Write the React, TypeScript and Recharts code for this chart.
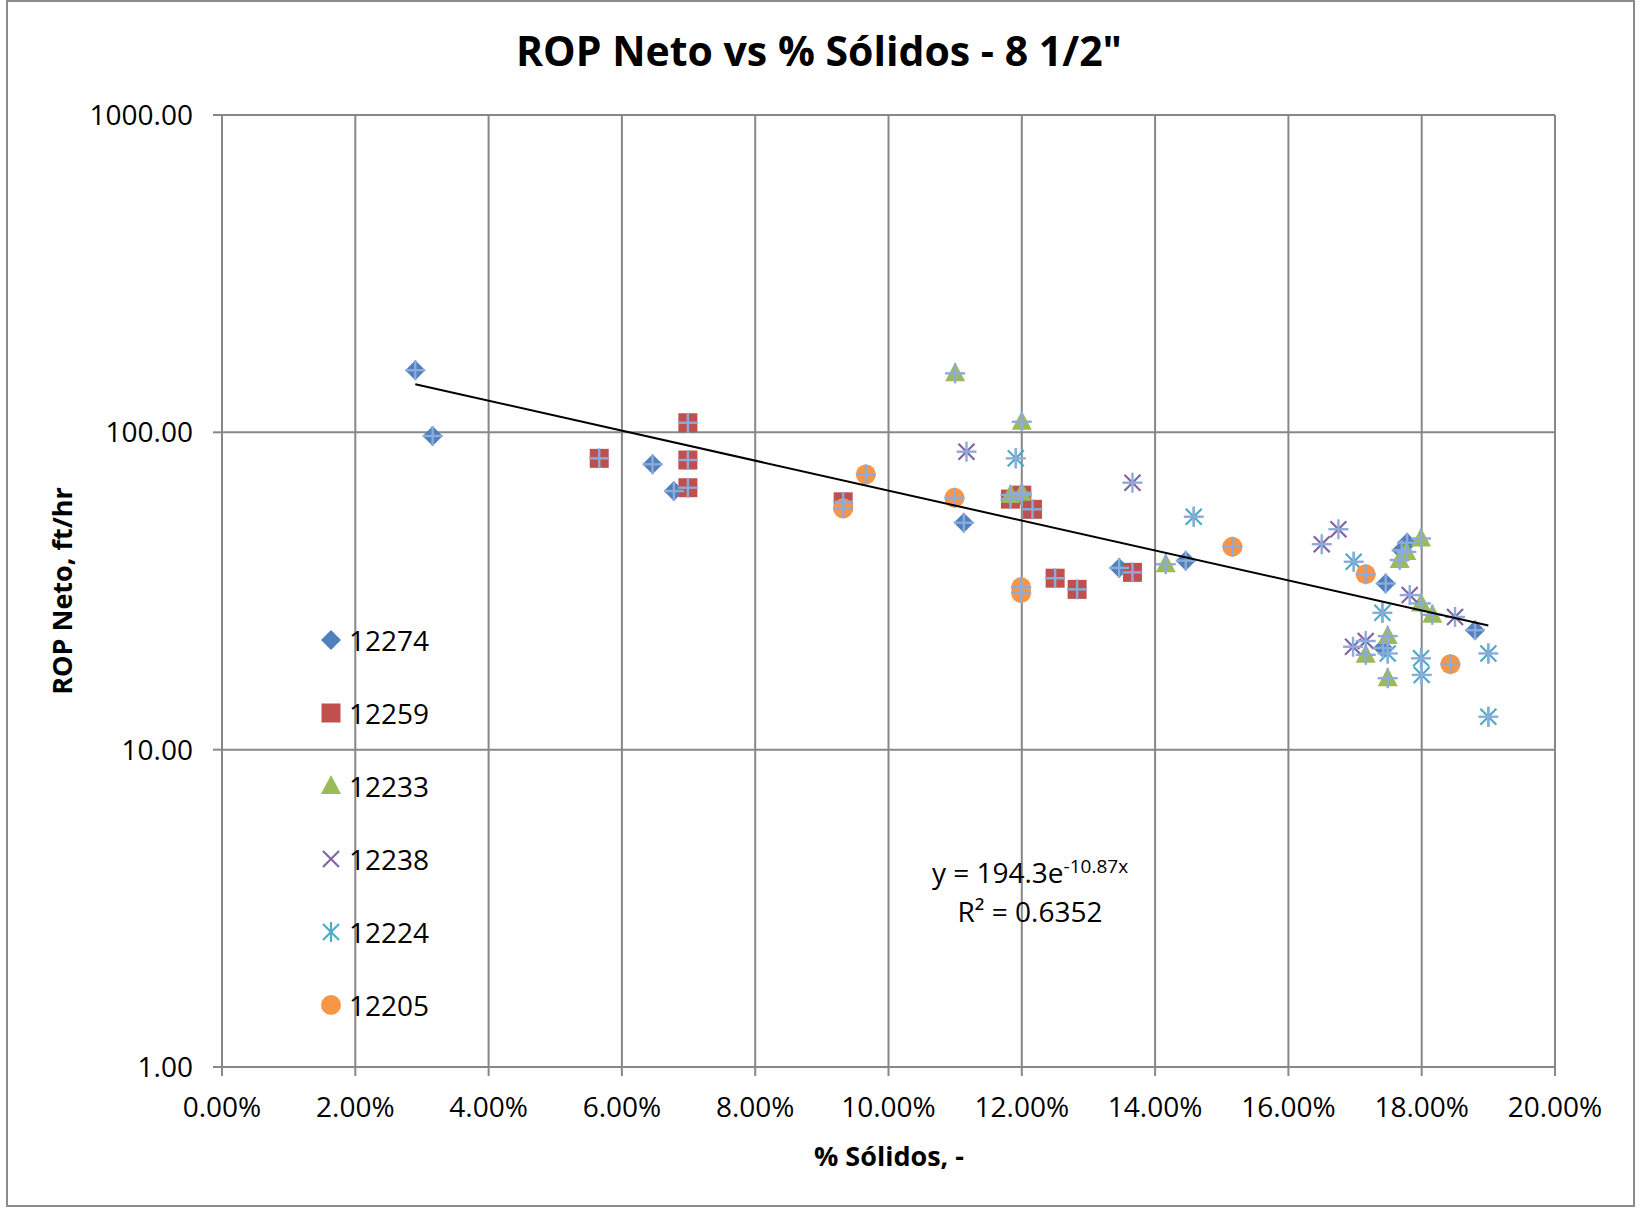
import React from "react";
import {
  ScatterChart,
  Scatter,
  XAxis,
  YAxis,
  CartesianGrid,
  Legend,
} from "recharts";

// % Sólidos (fraction) vs ROP Neto (ft/hr)
const s12274 = [
  { x: 0.029, y: 157 },
  { x: 0.0316, y: 97.4 },
  { x: 0.0646, y: 79.3 },
  { x: 0.0678, y: 65.3 },
  { x: 0.1113, y: 51.9 },
  { x: 0.1346, y: 37.4 },
  { x: 0.1446, y: 39.4 },
  { x: 0.1746, y: 33.4 },
  { x: 0.1778, y: 44.9 },
  { x: 0.177, y: 42.5 },
  { x: 0.1742, y: 20.9 },
  { x: 0.188, y: 23.8 },
];

const s12259 = [
  { x: 0.0566, y: 82.8 },
  { x: 0.0699, y: 107.2 },
  { x: 0.0699, y: 81.8 },
  { x: 0.0699, y: 66.9 },
  { x: 0.0932, y: 60.4 },
  { x: 0.1183, y: 61.6 },
  { x: 0.12, y: 63.4 },
  { x: 0.1216, y: 57.2 },
  { x: 0.125, y: 34.7 },
  { x: 0.1283, y: 32.0 },
  { x: 0.1366, y: 36.2 },
];

const s12233 = [
  { x: 0.11, y: 153.4 },
  { x: 0.12, y: 108 },
  { x: 0.1183, y: 63.5 },
  { x: 0.12, y: 64.5 },
  { x: 0.1416, y: 38.4 },
  { x: 0.1799, y: 46.3 },
  { x: 0.1767, y: 39.6 },
  { x: 0.1777, y: 42.0 },
  { x: 0.1799, y: 28.9 },
  { x: 0.1816, y: 26.6 },
  { x: 0.1716, y: 19.9 },
  { x: 0.1749, y: 22.8 },
  { x: 0.1749, y: 16.8 },
];

const s12238 = [
  { x: 0.1117, y: 86.9 },
  { x: 0.1366, y: 69.4 },
  { x: 0.165, y: 44.4 },
  { x: 0.1675, y: 49.5 },
  { x: 0.1697, y: 21.1 },
  { x: 0.1716, y: 22.0 },
  { x: 0.1782, y: 30.7 },
  { x: 0.185, y: 26.2 },
];

const s12224 = [
  { x: 0.1191, y: 82.8 },
  { x: 0.1458, y: 54.2 },
  { x: 0.1698, y: 39.1 },
  { x: 0.1741, y: 27.0 },
  { x: 0.1749, y: 20.1 },
  { x: 0.1799, y: 19.4 },
  { x: 0.18, y: 17.2 },
  { x: 0.19, y: 20.1 },
  { x: 0.19, y: 12.7 },
];

const s12205 = [
  { x: 0.0966, y: 73.7 },
  { x: 0.0932, y: 57.6 },
  { x: 0.1099, y: 62.2 },
  { x: 0.1199, y: 32.5 },
  { x: 0.1199, y: 31.2 },
  { x: 0.1516, y: 43.6 },
  { x: 0.1716, y: 35.7 },
  { x: 0.1843, y: 18.6 },
];

const xTicks = [0, 0.02, 0.04, 0.06, 0.08, 0.1, 0.12, 0.14, 0.16, 0.18, 0.2];
const yTicks = [1, 10, 100, 1000];

// exponential trendline as printed on the chart
const trendA = 194.3;
const trendB = -10.87;
const trendX = [0.029, 0.19];
const trend = trendX.map((x) => ({ x, y: trendA * Math.exp(trendB * x) }));

const allPoints = [...s12274, ...s12259, ...s12233, ...s12238, ...s12224, ...s12205];

const GRID = "#878787";
const PLUS = "#8eaadb";
const FONT = "'Open Sans', sans-serif";

type Kind = "diamond" | "square" | "triangle" | "x" | "star" | "circle";

function Marker({ kind, color, cx, cy }: { kind: Kind; color: string; cx: number; cy: number }) {
  const r = 10;
  switch (kind) {
    case "diamond":
      return <polygon points={`${cx},${cy - r} ${cx + r},${cy} ${cx},${cy + r} ${cx - r},${cy}`} fill={color} />;
    case "square":
      return <rect x={cx - 9.5} y={cy - 9.5} width={19} height={19} fill={color} />;
    case "triangle":
      return <polygon points={`${cx},${cy - 11} ${cx + 10},${cy + 8} ${cx - 10},${cy + 8}`} fill={color} />;
    case "x":
      return (
        <g stroke={color} strokeWidth={2.2}>
          <line x1={cx - 8} y1={cy - 8} x2={cx + 8} y2={cy + 8} />
          <line x1={cx - 8} y1={cy + 8} x2={cx + 8} y2={cy - 8} />
        </g>
      );
    case "star":
      return (
        <g stroke={color} strokeWidth={2.2}>
          <line x1={cx - 8} y1={cy - 8} x2={cx + 8} y2={cy + 8} />
          <line x1={cx - 8} y1={cy + 8} x2={cx + 8} y2={cy - 8} />
          <line x1={cx} y1={cy - 10} x2={cx} y2={cy + 10} />
        </g>
      );
    default:
      return <circle cx={cx} cy={cy} r={10} fill={color} />;
  }
}

const series: { name: string; data: { x: number; y: number }[]; kind: Kind; color: string }[] = [
  { name: "12274", data: s12274, kind: "diamond", color: "#4f81bd" },
  { name: "12259", data: s12259, kind: "square", color: "#c0504d" },
  { name: "12233", data: s12233, kind: "triangle", color: "#9bbb59" },
  { name: "12238", data: s12238, kind: "x", color: "#8064a2" },
  { name: "12224", data: s12224, kind: "star", color: "#4bacc6" },
  { name: "12205", data: s12205, kind: "circle", color: "#f79646" },
];

const plusShape = (p: any) => (
  <g stroke={PLUS} strokeWidth={2.4}>
    <line x1={p.cx - 10} y1={p.cy} x2={p.cx + 10} y2={p.cy} />
    <line x1={p.cx} y1={p.cy - 10} x2={p.cx} y2={p.cy + 10} />
  </g>
);

const renderLegend = () => (
  <div style={{ fontFamily: FONT, fontSize: 28, color: "#000" }}>
    {series.map((s) => (
      <div key={s.name} style={{ height: 73, display: "flex", alignItems: "center" }}>
        <svg width={24} height={24} style={{ marginRight: 6 }}>
          <Marker kind={s.kind} color={s.color} cx={12} cy={12} />
        </svg>
        <span>{s.name}</span>
      </div>
    ))}
  </div>
);

export default function App() {
  return (
    <div style={{ position: "absolute", left: 0, top: 0, width: 1640, height: 1208, background: "#fff" }}>
      <div
        style={{
          position: "absolute",
          left: 6,
          top: 0,
          width: 1629,
          height: 1207,
          border: "2px solid #8c8c8c",
          boxSizing: "border-box",
        }}
      />
      <div
        style={{
          position: "absolute",
          left: 0,
          top: 26,
          width: 1640,
          textAlign: "center",
          fontFamily: FONT,
          fontWeight: 700,
          fontSize: 41,
          lineHeight: "48px",
          paddingLeft: 0,
        }}
      >
        <span style={{ position: "relative", left: -1 }}>ROP Neto vs % Sólidos - 8 1/2"</span>
      </div>

      <div style={{ position: "absolute", left: 0, top: 0 }}>
        <ScatterChart width={1640} height={1208} margin={{ top: 115, right: 85, bottom: 81, left: 112 }}>
          <CartesianGrid stroke={GRID} strokeWidth={2} verticalPoints={undefined} />
          <XAxis
            type="number"
            dataKey="x"
            domain={[0, 0.2]}
            ticks={xTicks}
            interval={0}
            height={60}
            tickFormatter={(v: number) => (v * 100).toFixed(2) + "%"}
            tick={{ fill: "#000", fontSize: 28, fontFamily: FONT }}
            tickSize={9}
            tickMargin={21}
            axisLine={{ stroke: GRID, strokeWidth: 2 }}
            tickLine={{ stroke: GRID, strokeWidth: 2 }}
          />
          <YAxis
            type="number"
            dataKey="y"
            scale="log"
            domain={[1, 1000]}
            ticks={yTicks}
            interval={0}
            allowDataOverflow
            width={110}
            tickFormatter={(v: number) => v.toFixed(2)}
            tick={{ fill: "#000", fontSize: 28, fontFamily: FONT }}
            tickSize={9}
            tickMargin={20}
            axisLine={{ stroke: GRID, strokeWidth: 2 }}
            tickLine={{ stroke: GRID, strokeWidth: 2 }}
          />
          {series.map((s) => (
            <Scatter
              key={s.name}
              name={s.name}
              data={s.data}
              isAnimationActive={false}
              shape={(p: any) => <Marker kind={s.kind} color={s.color} cx={p.cx} cy={p.cy} />}
            />
          ))}
          <Scatter name="all" data={allPoints} isAnimationActive={false} legendType="none" shape={plusShape} />
          <Scatter
            name="trend"
            data={trend}
            isAnimationActive={false}
            legendType="none"
            line={{ stroke: "#000", strokeWidth: 2 }}
            shape={() => <g />}
          />
          <Legend
            layout="vertical"
            align="center"
            verticalAlign="middle"
            content={renderLegend}
            wrapperStyle={{ left: 319, top: 603, width: 140, height: 440 }}
          />
        </ScatterChart>
      </div>

      <div
        style={{
          position: "absolute",
          left: 61,
          top: 591,
          transform: "translate(-50%, -50%) rotate(-90deg)",
          whiteSpace: "nowrap",
          fontFamily: FONT,
          fontWeight: 700,
          fontSize: 27,
        }}
      >
        ROP Neto, ft/hr
      </div>
      <div
        style={{
          position: "absolute",
          left: 889,
          top: 1155,
          transform: "translate(-50%, -50%)",
          whiteSpace: "nowrap",
          fontFamily: FONT,
          fontWeight: 700,
          fontSize: 27,
        }}
      >
        % Sólidos, -
      </div>
      <div
        style={{
          position: "absolute",
          left: 1030,
          top: 892,
          transform: "translate(-50%, -50%)",
          whiteSpace: "nowrap",
          textAlign: "center",
          fontFamily: FONT,
          fontSize: 28,
          lineHeight: "39px",
        }}
      >
        <div>
          y = 194.3e<sup style={{ fontSize: 19, verticalAlign: "super", lineHeight: 0 }}>-10.87x</sup>
        </div>
        <div>R² = 0.6352</div>
      </div>
    </div>
  );
}
